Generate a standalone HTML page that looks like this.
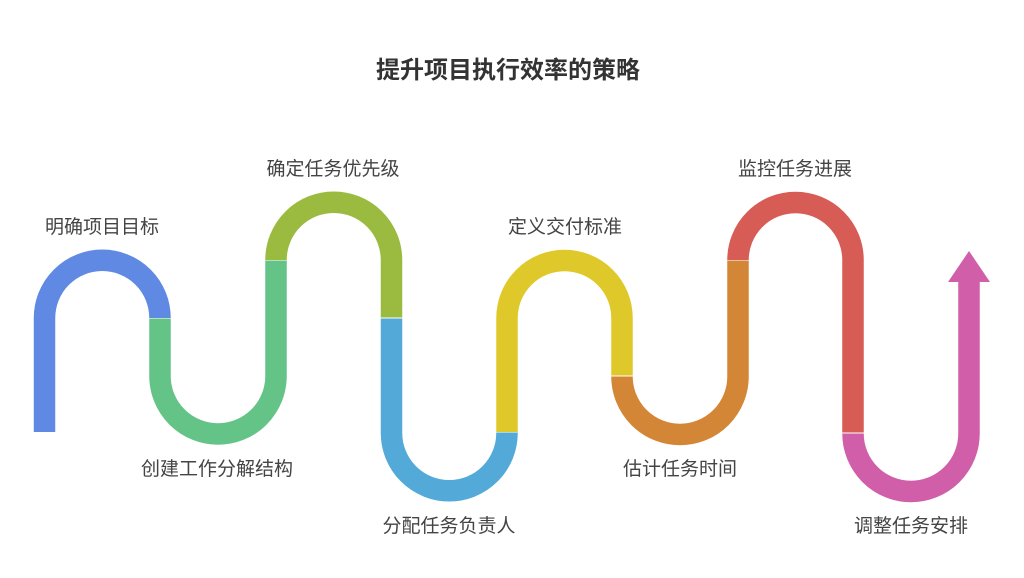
<!DOCTYPE html>
<html><head><meta charset="utf-8"><style>
html,body{margin:0;padding:0;background:#fff;}
svg{display:block}
text{font-family:"Liberation Sans","Noto Sans CJK SC",sans-serif;fill:#444;text-anchor:middle;}
</style></head><body>
<svg width="1024" height="578" viewBox="0 0 1024 578" xmlns="http://www.w3.org/2000/svg">
<g fill="none" stroke-width="21.5" stroke-linecap="butt">
<path d="M44.5 432 V318 A57.75 57.75 0 0 1 160 318" stroke="#5f89e3"/>
<path d="M160 318.5 V376 A58 58 0 0 0 276 376 V260.5" stroke="#64c487"/>
<path d="M276 260 A57.75 57.75 0 0 1 391.5 260 V317.5" stroke="#9bbb40"/>
<path d="M391.5 318.5 V433 A57.75 57.75 0 0 0 507 433 V432.5" stroke="#53aad8"/>
<path d="M507 432 V318 A57.5 57.5 0 0 1 622 318 V375.5" stroke="#dfc92a"/>
<path d="M622 376.5 A58 58 0 0 0 738 376.5 V260.5" stroke="#d38636"/>
<path d="M738 260 A57.5 57.5 0 0 1 853 260 V432.5" stroke="#d75c56"/>
<path d="M853 433.5 A58 58 0 0 0 969 433.5 V281" stroke="#d05ea8"/>
</g>
<polygon points="969,251 990,282 948,282" fill="#d05ea8"/>
<text x="508" y="78" font-size="24" font-weight="bold" style="fill:#333">提升项目执行效率的策略</text>
<g font-size="19">
<text x="102" y="233">明确项目目标</text>
<text x="333" y="175">确定任务优先级</text>
<text x="217" y="475">创建工作分解结构</text>
<text x="449" y="532">分配任务负责人</text>
<text x="565" y="233">定义交付标准</text>
<text x="680" y="475">估计任务时间</text>
<text x="795" y="175">监控任务进展</text>
<text x="911" y="532">调整任务安排</text>
</g>
</svg>
</body></html>
